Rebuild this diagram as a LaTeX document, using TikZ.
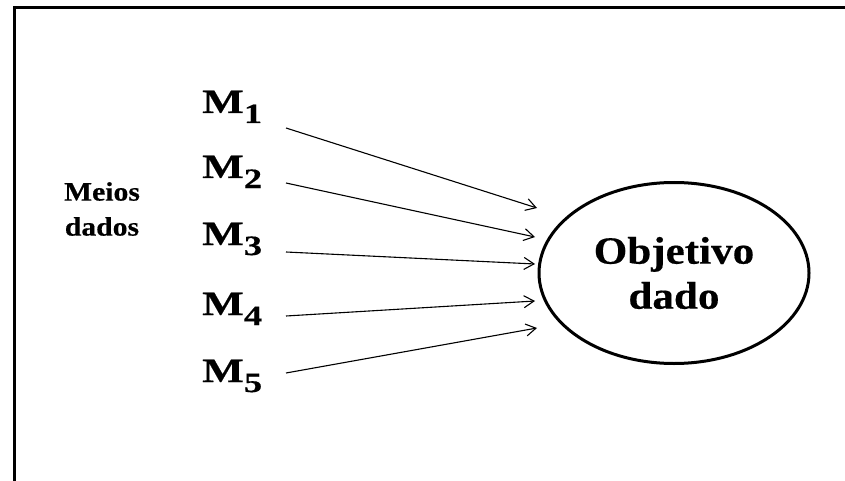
\documentclass[tikz,border=0pt]{standalone}
\usepackage{fontspec}
\setmainfont{Liberation Serif}[FakeStretch=1.12, FakeBold=0.4]
\newfontfamily\mfont{Liberation Serif}[FakeStretch=1.3, FakeBold=0.4]
\usetikzlibrary{arrows.meta,shapes.geometric}

% M with a lowered index
\newcommand{\meio}[1]{{\mfont\bfseries\fontsize{34}{36}\selectfont M\raisebox{-10pt}{\fontsize{28}{30}\selectfont #1}}}

\begin{document}
\begin{tikzpicture}[x=1pt, y=-1pt, >={Straight Barb[length=10pt,width=12pt]},
    rotulo/.style={anchor=base west, inner sep=0pt},
    seta/.style={->, line width=1.1pt}]
    \useasboundingbox (0,0) rectangle (845,481);
    \draw[line width=3pt] (845,8) -- (14.7,8) -- (14.7,481);

    \node[font=\bfseries\fontsize{26.5}{35}\selectfont, align=center] (meios) at (102,209) {Meios\\dados};

    \node[rotulo] (m1) at (202,113) {\meio{1}};
    \node[rotulo] (m2) at (202,178) {\meio{2}};
    \node[rotulo] (m3) at (202,245) {\meio{3}};
    \node[rotulo] (m4) at (202,315) {\meio{4}};
    \node[rotulo] (m5) at (202,382) {\meio{5}};

    \node[draw, ellipse, line width=3pt, minimum width=270pt, minimum height=181pt,
        inner sep=0pt, align=center, font=\bfseries\fontsize{38.5}{45}\selectfont]
        (objetivo) at (674,273) {Objetivo\\dado};

    \coordinate (s1) at (286,128);
    \coordinate (s2) at (286,183);
    \coordinate (s3) at (286,252);
    \coordinate (s4) at (286,316);
    \coordinate (s5) at (286,373);
    \coordinate (e1) at (537,208);
    \coordinate (e2) at (535,237);
    \coordinate (e3) at (535,264);
    \coordinate (e4) at (535,301);
    \coordinate (e5) at (537,328);

    \foreach \i in {1,...,5}
        \draw[seta] (s\i) -- (e\i);
\end{tikzpicture}
\end{document}
